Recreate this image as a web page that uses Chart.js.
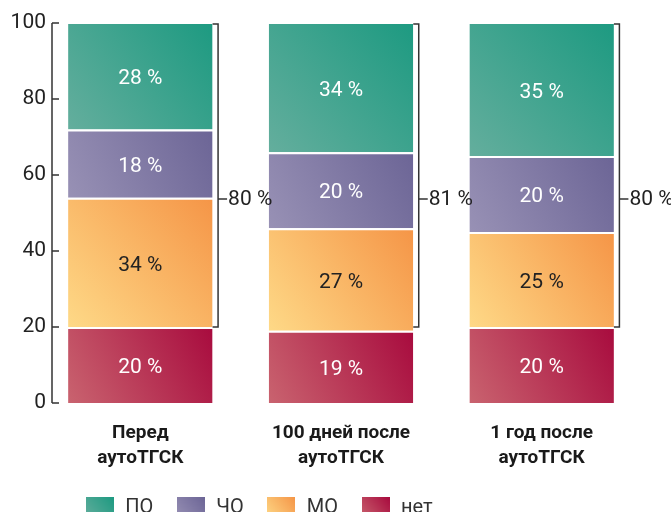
<!DOCTYPE html>
<html>
<head>
<meta charset="utf-8">
<script src="https://cdn.jsdelivr.net/npm/chart.js@4/dist/chart.umd.min.js"></script>
<style>
  html, body { margin: 0; padding: 0; background: #fff; overflow: hidden; }
</style>
</head>
<body>
<canvas id="chart" width="671" height="512"></canvas>
<script>
const categories = [["Перед", "аутоТГСК"], ["100 дней после", "аутоТГСК"], ["1 год после", "аутоТГСК"]];
const seriesNames = ["нет", "МО", "ЧО", "ПО"];
const netValues = [20, 19, 20];
const moValues = [34, 27, 25];
const choValues = [18, 20, 20];
const poValues = [28, 34, 35];
const bracketLabels = ["80 %", "81 %", "80 %"];
const bracketFrom = [20, 20, 20];
const yTicks = [0, 20, 40, 60, 80, 100];

// light (bottom-left) -> dark (top-right)
const colors = [
  ["#c9636f", "#a80b3e"],
  ["#fed987", "#f59547"],
  ["#9891b5", "#6c6596"],
  ["#64ae9d", "#1d9a81"]
];
const labelColors = ["#fff", "#222", "#fff", "#fff"];
const FONT = "Roboto, 'Noto Sans', sans-serif";
const BAR_SHARE = 0.72;

function segGradient(pair) {
  return function (ctx) {
    const chart = ctx.chart;
    if (ctx.type !== "data" || !chart.chartArea) return pair[1];
    const xs = chart.scales.x, ys = chart.scales.y;
    const i = ctx.dataIndex, d = ctx.datasetIndex;
    let base = 0;
    for (let k = 0; k < d; k++) base += chart.data.datasets[k].data[i];
    const top = base + chart.data.datasets[d].data[i];
    const cx = xs.getPixelForValue(i);
    const half = ((xs.right - xs.left) / categories.length) * BAR_SHARE / 2;
    const g = chart.ctx.createLinearGradient(cx - half, ys.getPixelForValue(base), cx + half, ys.getPixelForValue(top));
    g.addColorStop(0, pair[0]);
    g.addColorStop(1, pair[1]);
    return g;
  };
}

function swatch(pair) {
  const c = document.createElement("canvas");
  c.width = 28; c.height = 22;
  const g2 = c.getContext("2d");
  const g = g2.createLinearGradient(0, 22, 28, 0);
  g.addColorStop(0, pair[0]);
  g.addColorStop(1, pair[1]);
  g2.fillStyle = g;
  g2.fillRect(0, 0, 28, 22);
  return c;
}

const allValues = [netValues, moValues, choValues, poValues];

const extras = {
  id: "extras",
  afterLayout(chart) {
    // bars start a little left of the y axis box
    const xs = chart.scales.x;
    xs.left = 40;
    xs.width = xs.right - xs.left;
    xs.configure();
    const lg = chart.legend;
    lg.left -= 125;
    lg.top += 3;
    lg.bottom += 3;
  },
  afterDatasetsDraw(chart) {
    const { ctx, scales: { x, y } } = chart;
    ctx.save();

    // y axis line with inward ticks
    const ax = 52;
    ctx.strokeStyle = "#333";
    ctx.lineWidth = 1.5;
    ctx.beginPath();
    ctx.moveTo(ax, y.getPixelForValue(0));
    ctx.lineTo(ax, y.getPixelForValue(100));
    yTicks.forEach(v => {
      const py = y.getPixelForValue(v);
      ctx.moveTo(ax, py);
      ctx.lineTo(ax + 7, py);
    });
    ctx.stroke();

    // values inside segments
    ctx.font = "21px " + FONT;
    ctx.textAlign = "center";
    ctx.textBaseline = "middle";
    chart.data.datasets.forEach((ds, d) => {
      chart.getDatasetMeta(d).data.forEach((el, i) => {
        ctx.fillStyle = labelColors[d];
        ctx.fillText(ds.data[i] + " %", el.x, (el.y + el.base) / 2 + 3);
      });
    });

    // brackets on the right of each bar
    const topMeta = chart.getDatasetMeta(chart.data.datasets.length - 1);
    const labelAt = 53.7;
    topMeta.data.forEach((el, i) => {
      const x0 = el.x + el.width / 2;
      const bx = x0 + 5.5;
      const yt = y.getPixelForValue(100) + 1;
      const yb = y.getPixelForValue(bracketFrom[i]);
      const ym = y.getPixelForValue(labelAt);
      ctx.strokeStyle = "#333";
      ctx.lineWidth = 1.5;
      ctx.beginPath();
      ctx.moveTo(x0, yt);
      ctx.lineTo(bx, yt);
      ctx.lineTo(bx, yb);
      ctx.lineTo(x0, yb);
      ctx.moveTo(bx, ym);
      ctx.lineTo(bx + 9, ym);
      ctx.stroke();
      ctx.fillStyle = "#222";
      ctx.textAlign = "left";
      ctx.fillText(bracketLabels[i], bx + 10, ym + 1);
    });
    ctx.restore();
  }
};

new Chart(document.getElementById("chart").getContext("2d"), {
  type: "bar",
  data: {
    labels: categories,
    datasets: seriesNames.map((name, d) => ({
      label: name,
      data: allValues[d],
      backgroundColor: segGradient(colors[d]),
      borderColor: "#fff",
      borderWidth: { top: d === 3 ? 1 : 2, right: 0, bottom: 0, left: 0 },
      borderSkipped: false,
      barPercentage: BAR_SHARE,
      categoryPercentage: 1
    }))
  },
  options: {
    responsive: false,
    animation: false,
    layout: { padding: { top: 23, right: 29, left: 0, bottom: 0 } },
    plugins: {
      tooltip: { enabled: false },
      legend: {
        position: "bottom",
        reverse: true,
        maxHeight: 39,
        labels: {
          usePointStyle: true,
          pointStyleWidth: 31,
          padding: 22,
          color: "#333",
          font: { size: 20, family: FONT },
          generateLabels(chart) {
            return chart.data.datasets.map((ds, i) => ({
              text: ds.label,
              pointStyle: swatch(colors[i]),
              fillStyle: colors[i][1],
              strokeStyle: "rgba(0,0,0,0)",
              lineWidth: 0,
              fontColor: "#333",
              hidden: false,
              datasetIndex: i
            }));
          }
        }
      }
    },
    scales: {
      x: {
        stacked: true,
        grid: { display: false, drawTicks: false },
        border: { display: false },
        ticks: {
          color: "#1a1a1a",
          padding: 18,
          font: { size: 19, weight: "bold", family: FONT, lineHeight: 1.32 }
        },
        afterFit(s) { s.height = 70; }
      },
      y: {
        stacked: true,
        min: 0,
        max: 100,
        grid: { display: false, drawTicks: false },
        border: { display: false },
        ticks: {
          stepSize: 20,
          color: "#222",
          padding: 1,
          font: { size: 21, family: FONT }
        },
        afterFit(s) { s.width = 47; }
      }
    }
  },
  plugins: [extras]
});
</script>
</body>
</html>
